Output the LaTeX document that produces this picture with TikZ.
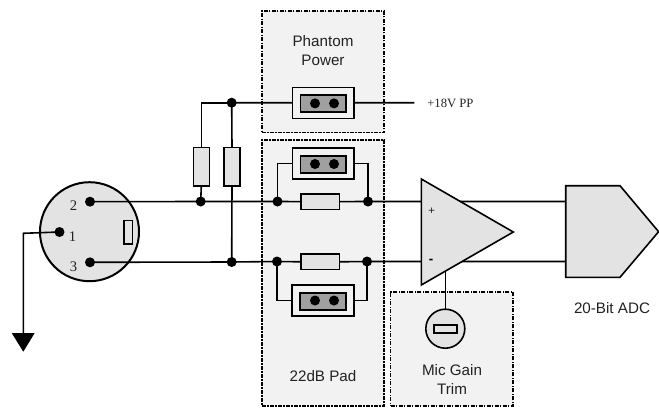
\documentclass[tikz,border=0pt]{standalone}
\usepackage{fontspec}
\setmainfont{Liberation Sans}
\newfontfamily\serifl{Liberation Serif}
\pgfdeclarelayer{under}
\pgfdeclarelayer{wires}
\pgfsetlayers{under,wires,main}
\def\pxu{0.75pt}
\definecolor{boxfill}{HTML}{F2F2F2}
\definecolor{partfill}{HTML}{E3E3E3}
\definecolor{jumpfill}{HTML}{A0A0A0}
\definecolor{txt}{HTML}{222222}
\tikzset{
  px/.style={x=\pxu,y=-\pxu},
  wire/.style={draw=black,line width=1.2pt},
  part/.style={draw=black,line width=1.2pt,fill=partfill,inner sep=0pt,outer sep=0pt,rectangle},
  dotnode/.style={circle,fill=black,inner sep=0pt,minimum size=10*\pxu,outer sep=0pt},
  resv/.style={part,minimum width=16*\pxu,minimum height=38.5*\pxu},
  resh/.style={part,minimum width=38.5*\pxu,minimum height=15.5*\pxu},
  group/.style={draw=black,fill=boxfill,line width=1pt,dash pattern=on 3pt off 1pt on 1pt off 1pt,inner sep=0pt,outer sep=0pt,rectangle},
  jumperout/.style={draw=black,fill=boxfill,line width=1.2pt,minimum width=61.5*\pxu,minimum height=31*\pxu,inner sep=0pt,outer sep=0pt,rectangle},
  jumperin/.style={draw=black,fill=jumpfill,line width=1.4pt,minimum width=45.5*\pxu,minimum height=17*\pxu,inner sep=0pt,outer sep=0pt,rectangle},
  label/.style={text=txt,font=\fontsize{11.4pt}{14.2pt}\selectfont,align=center,inner sep=0pt},
  pinlabel/.style={text=txt,font=\serifl\fontsize{11pt}{13pt}\selectfont,inner sep=0pt},
}
\begin{document}
\begin{tikzpicture}[px]
\useasboundingbox (0,0) rectangle (659,407);
% groups
\begin{pgfonlayer}{under}
\node[group,minimum width=122*\pxu,minimum height=121.7*\pxu] (phantombox) at (323,71.8) {};
\node[group,minimum width=122*\pxu,minimum height=266*\pxu] (padbox) at (323,273) {};
\node[group,minimum width=122.3*\pxu,minimum height=114*\pxu] (trimbox) at (451.8,349) {};
\node[circle,draw=black,line width=1.5pt,fill=partfill,minimum size=99*\pxu,inner sep=0pt] (xlr) at (89.5,231.7) {};
\end{pgfonlayer}
% connector parts
\node[dotnode] (pin2) at (90,201.7) {};
\node[dotnode] (pin1) at (59.5,232) {};
\node[dotnode] (pin3) at (90,262.3) {};
\node[part,fill=partfill,minimum width=8.6*\pxu,minimum height=23.7*\pxu] (key) at (128,232.2) {};
\node[pinlabel] (l2) at (73.5,205.7) {2};
\node[pinlabel] (l1) at (72.5,237) {1};
\node[pinlabel] (l3) at (73.5,267) {3};
% ground
\coordinate (gndcorner) at (23.3,233.3);
\coordinate (gndtop) at (23.3,333);
\fill[black] (11.7,333) -- (34.7,333) -- (23.3,351.7) -- cycle;
% phantom
\node[jumperout] (j1) at (323.2,102.8) {};
\node[jumperin] (j1i) at (323.2,103.6) {};
\node[dotnode] at (315,103.4) {};
\node[dotnode] at (334,103.4) {};
\coordinate (ppend) at (414.3,102.7);
\node[anchor=west,text=txt,font=\serifl\fontsize{9.5pt}{10pt}\selectfont,inner sep=0pt] (pplabel) at (427,103) {+18V PP};
\node[label] (phantomtext) at (323,51) {Phantom\\Power};
% phantom resistors
\node[resv] (r1) at (201.3,166.7) {};
\node[resv] (r2) at (232,166.7) {};
\node[dotnode] (topj) at (231.7,102.7) {};
\node[dotnode] (j2a) at (200.7,201.5) {};
\node[dotnode] (j3a) at (231.7,262) {};
% pad
\node[jumperout] (j2) at (323.2,163.6) {};
\node[jumperin] (j2i) at (323.2,164.3) {};
\node[dotnode] at (315,164) {};
\node[dotnode] at (334,164) {};
\node[resh] (r3) at (320.3,201.6) {};
\node[dotnode] (j2b) at (277.5,201.5) {};
\node[dotnode] (j2c) at (368,201.5) {};
\node[resh] (r4) at (320.3,261.8) {};
\node[dotnode] (j3b) at (277,261.5) {};
\node[dotnode] (j3c) at (367,261.5) {};
\node[jumperout] (j3) at (323,300.5) {};
\node[jumperin] (j3i) at (323,301.3) {};
\node[dotnode] at (315,300.5) {};
\node[dotnode] at (334,300.5) {};
\node[label] (padtext) at (323,376.5) {22dB Pad};
% op amp
\coordinate (ampin2) at (421.3,201.5);
\coordinate (ampin3) at (421.3,261.5);
\coordinate (amptrim) at (445.3,272);
\draw[draw=black,line width=1.2pt,line join=miter,fill=partfill] (421.3,179) -- (513.3,232) -- (421.3,285) -- cycle;
\node[text=txt,font=\fontsize{8.5pt}{10pt}\selectfont,inner sep=0pt] (plus) at (431.7,211) {+};
\node[text=black,font=\bfseries\fontsize{10pt}{10pt}\selectfont,inner sep=0pt] (minus) at (431,261) {-};
% trim
\node[circle,draw=black,line width=1.2pt,fill=partfill,minimum size=39*\pxu,inner sep=0pt,outer sep=0pt] (trim) at (445.3,328.7) {};
\node[part,fill=partfill,line width=1.4pt,minimum width=23.6*\pxu,minimum height=8.6*\pxu] (trimslot) at (445.5,329) {};
\node[label] (trimtext) at (452,379.5) {Mic Gain\\Trim};
% ADC
\coordinate (adc2) at (565.7,201.5);
\coordinate (adc3) at (565.7,261.5);
\draw[draw=black,line width=1.2pt,fill=partfill,line join=miter] (565.7,185.7) -- (620,185.7) -- (658.6,231.7) -- (620,277.3) -- (565.7,277.3) -- cycle;
\node[label] (adctext) at (612,308) {20-Bit ADC};
% wires
\begin{pgfonlayer}{wires}
\draw[wire] (pin1.center) -- (gndcorner) -- (gndtop);
\draw[wire] (pin2.center) -- (j2a.center) -- (j2b.center) -- (r3.west);
\draw[wire] (r3.east) -- (j2c.center) -- (ampin2) -- (adc2);
\draw[wire] (pin3.center) -- (j3a.center) -- (j3b.center) -- (r4.west);
\draw[wire] (r4.east) -- (j3c.center) -- (ampin3) -- (adc3);
\draw[wire] (r1.north) |- (topj.center);
\draw[wire] (r1.south) -- (j2a.center);
\draw[wire] (topj.center) -- (r2.north);
\draw[wire] (r2.south) -- (j3a.center);
\draw[wire] (topj.center) -- (j1.west);
\draw[wire] (j1.east) -- (ppend);
\draw[wire] (j2b.center) |- (j2.west);
\draw[wire] (j2c.center) |- (j2.east);
\draw[wire] (j3b.center) |- (j3.west);
\draw[wire] (j3c.center) |- (j3.east);
\draw[wire] (amptrim) -- (trim.north);
\end{pgfonlayer}
\end{tikzpicture}
\end{document}
